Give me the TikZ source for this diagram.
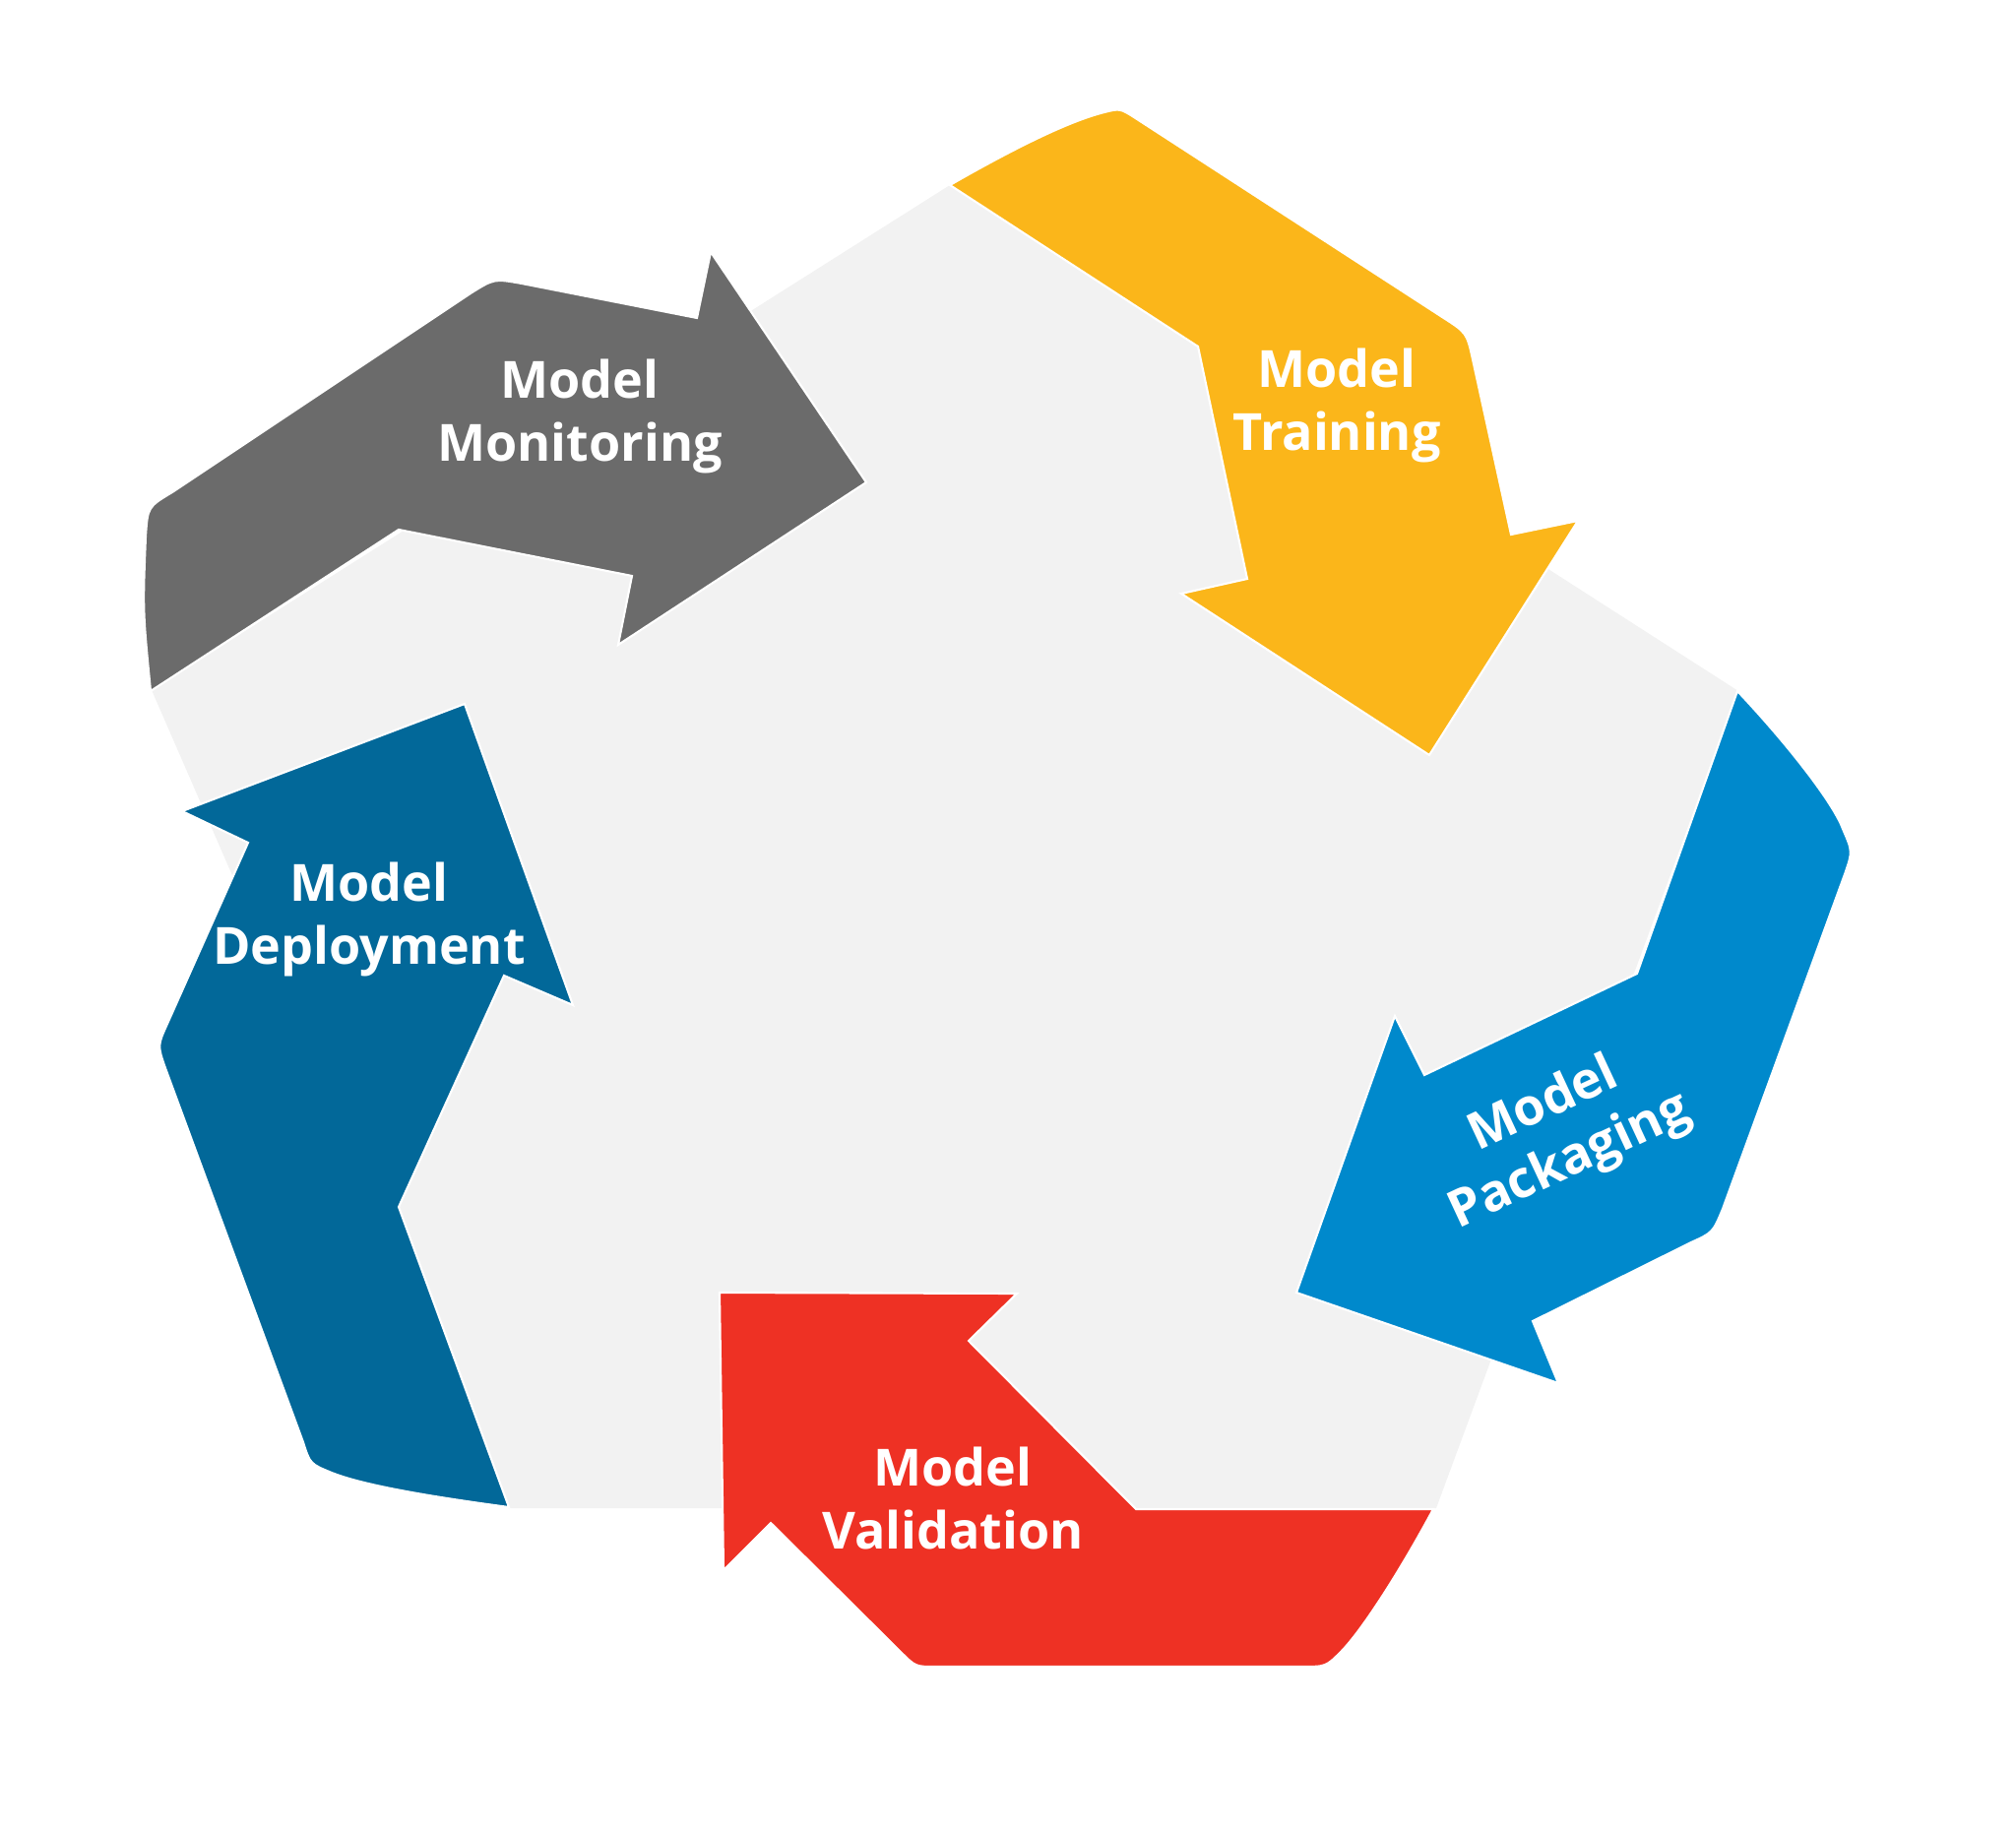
\documentclass[tikz,border=0pt]{standalone}
\usepackage{fontspec}
\setmainfont{Open Sans}
\definecolor{bgpent}{HTML}{F2F2F2}
\definecolor{trainY}{HTML}{FBB61A}
\definecolor{monG}{HTML}{6B6B6B}
\definecolor{packB}{HTML}{0089CC}
\definecolor{valR}{HTML}{EE3124}
\definecolor{depB}{HTML}{026899}
\begin{document}
\begin{tikzpicture}[x=0.01cm,y=-0.01cm,
		arr/.style={draw=white,line width=0.6pt},
		lbl/.style={text=white,align=center,inner sep=0pt,font=\bfseries\fontsize{14.8}{18}\selectfont}]
		\useasboundingbox (0,0) rectangle (2048,1864);
		
		% background pentagon
		\fill[bgpent] (965,188) -- (1766,702) -- (1459,1532) -- (516,1532) -- (154,701) -- cycle;
		
		% training
		\fill[trainY,arr] (965,188) .. controls (1040,145) and (1090,122) .. (1122,114)
		.. controls (1138,110) .. (1155,121) -- (1465,322)
		.. controls (1490,338) .. (1496,365) -- (1535,543) -- (1603,529) -- (1452,767)
		-- (1200,603) -- (1267,588) -- (1217,352) -- cycle;
		
		% monitoring
		\fill[monG,arr] (880,490) -- (722,256) -- (708,323) -- (530,288)
		.. controls (502,283) .. (478,298) -- (175,500)
		.. controls (150,515) .. (148,545) .. controls (145,620) .. (153,702)
		-- (405,538) -- (642,585) -- (628,655) -- cycle;
		
		% packaging
		\fill[packB,arr] (1765,702) .. controls (1815,755) and (1862,815) .. (1872,842)
		.. controls (1882,865) .. (1874,888) -- (1750,1228)
		.. controls (1740,1252) .. (1718,1262) -- (1557,1342) -- (1583,1405)
		-- (1317,1313) -- (1417,1032) -- (1447,1092) -- (1663,989) -- cycle;
		
		% validation
		\fill[valR,arr] (1456,1533) .. controls (1420,1600) and (1382,1658) .. (1362,1678)
		.. controls (1347,1693) .. (1322,1693) -- (950,1693)
		.. controls (930,1693) .. (915,1678) -- (783,1547) -- (735,1595)
		-- (731,1313) -- (1033,1314) -- (984,1362) -- (1154,1533) -- cycle;
		
		% deployment
		\fill[depB,arr] (517,1531) .. controls (450,1522) and (372,1510) .. (337,1496)
		.. controls (315,1487) .. (308,1465) -- (168,1085)
		.. controls (160,1062) .. (170,1040) -- (252,856) -- (185,824) -- (472,715)
		-- (582,1021) -- (512,991) -- (405,1226) -- cycle;
		
		% labels
		\node[lbl] (monitoring) at (589,423) {Model\\Monitoring};
		\node[lbl] (training) at (1358,412) {Model\\Training};
		\node[lbl,rotate=25] (packaging) at (1582,1152) {Model\\Packaging};
		\node[lbl] (validation) at (968,1522) {Model\\Validation};
		\node[lbl] (deployment) at (375,934) {Model\\Deployment};
\end{tikzpicture}
\end{document}
